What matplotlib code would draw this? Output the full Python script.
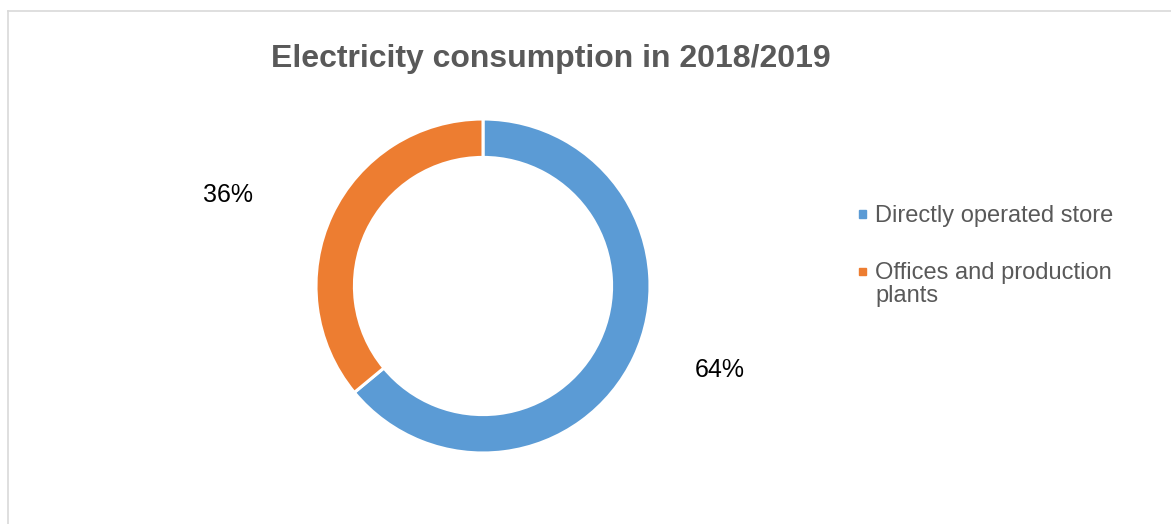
import matplotlib.pyplot as plt
from matplotlib.patches import Rectangle
from matplotlib.lines import Line2D

plt.rcParams["font.family"] = ["Liberation Sans", "DejaVu Sans"]

# data
categories = ["Directly operated store", "Offices and production\nplants"]
shares = [64, 36]
colors = ["#5B9BD5", "#ED7D31"]
label_pos = [(1.419, -0.545), (-1.527, 0.503)]

W, H = 1171, 524
fig = plt.figure(figsize=(W / 100, H / 100), dpi=100)

# chart frame (only top and left edges visible in crop)
fig.add_artist(Line2D([8 / W, 8 / W], [0, 1 - 11 / H], transform=fig.transFigure,
                      color="#d9d9d9", lw=1.2))
fig.add_artist(Line2D([8 / W, 1], [1 - 11 / H, 1 - 11 / H], transform=fig.transFigure,
                      color="#d9d9d9", lw=1.2))

cx, cy, r = 483, H - 286, 167
ax = fig.add_axes([(cx - r) / W, (cy - r) / H, 2 * r / W, 2 * r / H])
ax.pie(shares, colors=colors, startangle=90, counterclock=False, radius=1.0,
       wedgeprops=dict(width=0.23, edgecolor="white", linewidth=2.2))
ax.set_xlim(-1, 1)
ax.set_ylim(-1, 1)
ax.set_aspect("equal")
ax.axis("off")

for v, (x, y) in zip(shares, label_pos):
    ax.text(x, y, f"{v}%", ha="center", va="baseline", fontsize=18, color="#000000",
            clip_on=False)

fig.text(551 / W, 1 - 67 / H, "Electricity consumption in 2018/2019", ha="center",
         va="baseline", fontsize=23, fontweight="bold", color="#595959")

# legend
leg_base = [222, 279]
for cat, col, y in zip(categories, colors, leg_base):
    fig.add_artist(Rectangle(((863 - 3.5) / W, 1 - (y - 8 + 3.5) / H), 7 / W, 7 / H,
                             transform=fig.transFigure, color=col))
    for i, line in enumerate(cat.split("\n")):
        fig.text(875 / W, 1 - (y + 23 * i) / H, line, ha="left", va="baseline",
                 fontsize=17, color="#595959")

fig.savefig("out.png", dpi=100)
